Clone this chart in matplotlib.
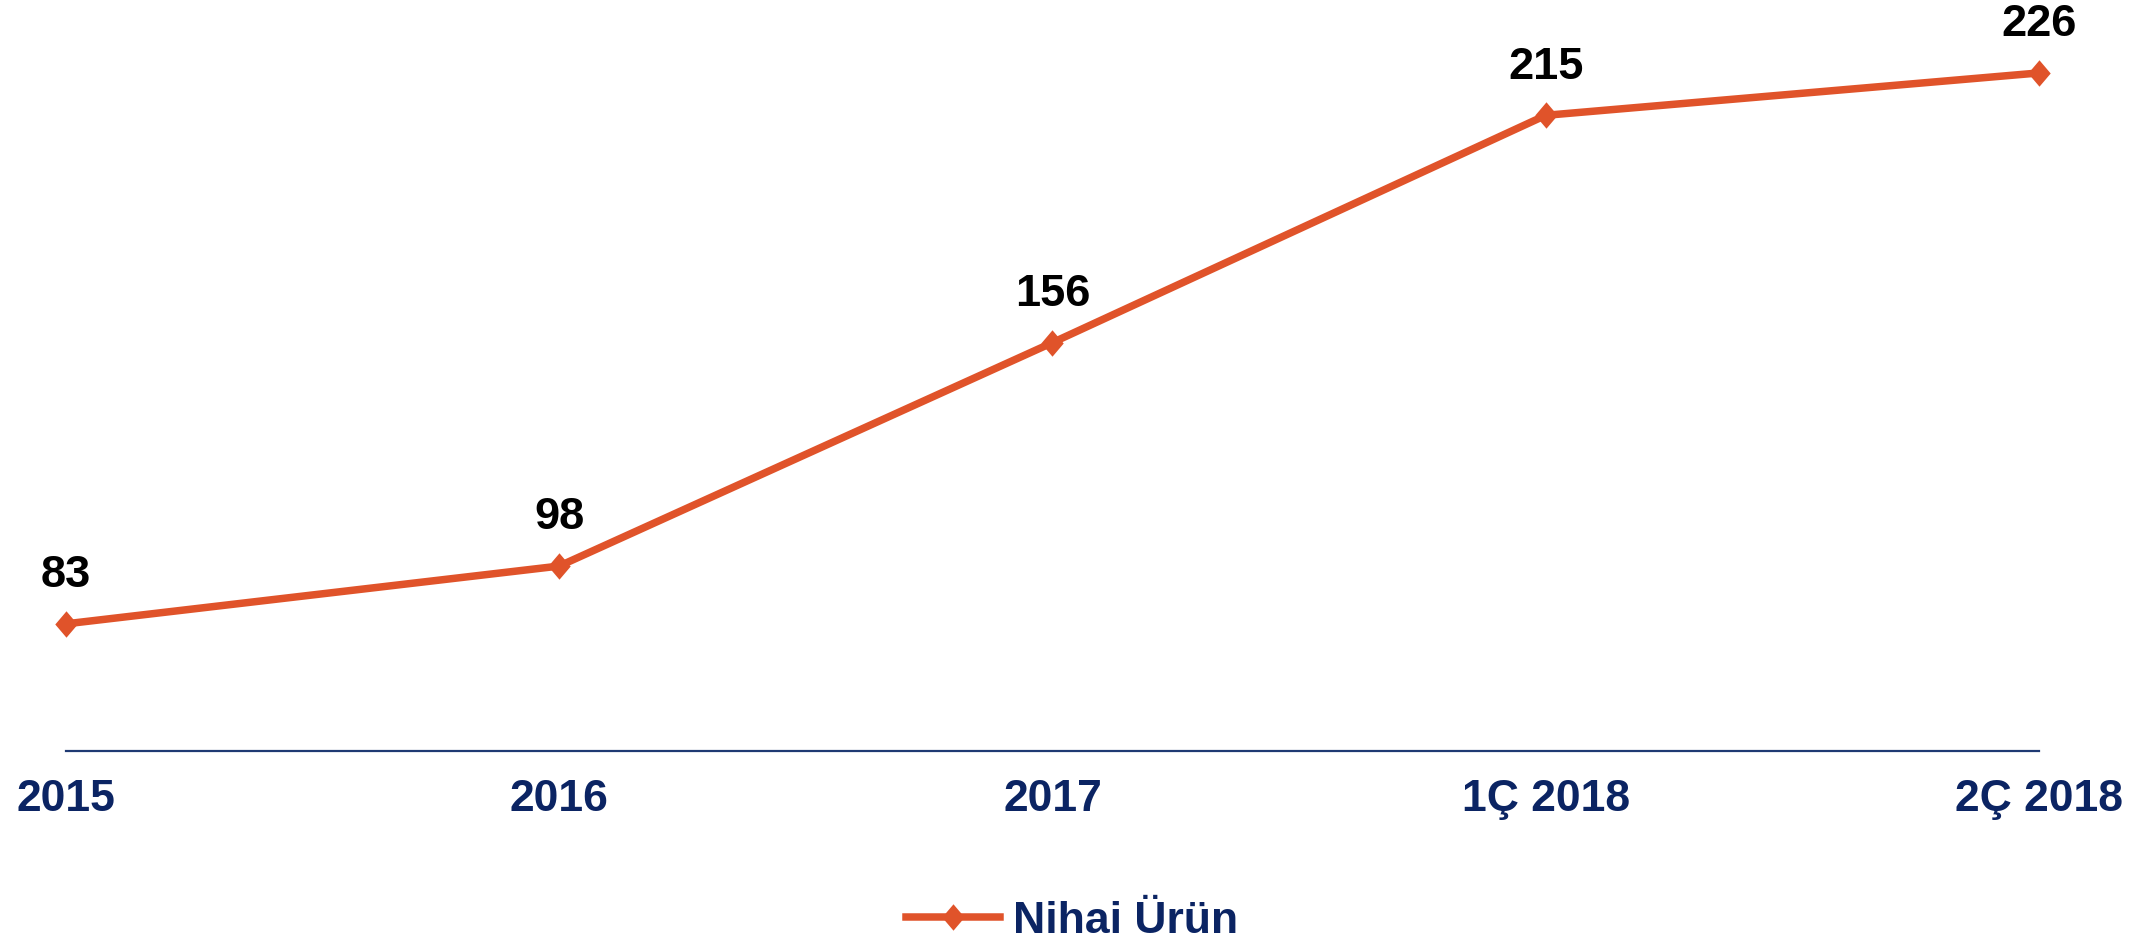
import matplotlib
matplotlib.use("Agg")
import matplotlib.pyplot as plt

# Veri
donemler = ["2015", "2016", "2017", "1Ç 2018", "2Ç 2018"]
nihai_urun = [83, 98, 156, 215, 226]
seri_adi = "Nihai Ürün"

TURUNCU = "#E0532A"
LACIVERT = "#0B2463"

# hafif uzun elmas isaretci
elmas = [(0, 1), (0.85, 0), (0, -1), (-0.85, 0), (0, 1)]

plt.rcParams["font.family"] = ["Liberation Sans", "DejaVu Sans"]

fig = plt.figure(figsize=(21.49, 9.5), dpi=100)
ax = fig.add_axes([0.0307, 0.2095, 0.9181, 0.7705])

x = list(range(len(donemler)))
ax.plot(x, nihai_urun, color=TURUNCU, linewidth=5.4, marker=elmas,
        markersize=19, markeredgewidth=0, label=seri_adi, clip_on=False)

for xi, v in zip(x, nihai_urun):
    ax.annotate(str(v), (xi, v), xytext=(0, 20), textcoords="offset points",
                ha="center", va="bottom", fontsize=32.5, fontweight="bold",
                color="black", annotation_clip=False)

ax.set_xlim(0, len(donemler) - 1)
ax.set_ylim(50, 240)
ax.set_xticks(x)
ax.set_xticklabels(donemler, fontsize=32, fontweight="bold", color=LACIVERT)
ax.tick_params(axis="x", length=0, pad=20)
ax.set_yticks([])
for s in ["top", "right", "left"]:
    ax.spines[s].set_visible(False)
ax.spines["bottom"].set_color("#1F3A73")
ax.spines["bottom"].set_linewidth(1.6)

leg = fig.legend(loc="center", bbox_to_anchor=(0.499, 0.03), frameon=False,
                 handlelength=2.1, handletextpad=0.3,
                 prop={"weight": "bold", "size": 32})
for t in leg.get_texts():
    t.set_color(LACIVERT)

fig.savefig("out.png", dpi=100)
